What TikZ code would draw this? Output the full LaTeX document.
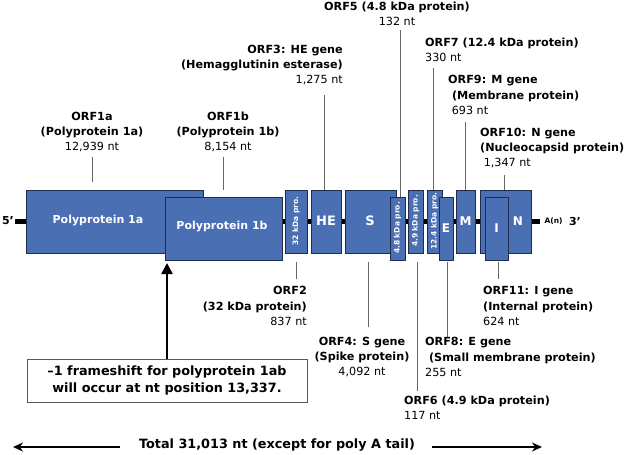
\documentclass[tikz,border=0pt]{standalone}
\usepackage{fontspec}
\setmainfont{DejaVu Sans}
\usetikzlibrary{arrows.meta}
\definecolor{gfill}{HTML}{4A6FB3}
\definecolor{gline}{HTML}{1E2C50}
\begin{document}
\begin{tikzpicture}[x=1pt,y=-1pt,
 blk/.style={draw=gline,fill=gfill,line width=0.8pt},
 btxt/.style={text=white,font=\bfseries\fontsize{11}{12}\selectfont},
 vtxt/.style={text=white,font=\bfseries\fontsize{7.5}{8}\selectfont,rotate=90},
 lab/.style={font=\fontsize{11.2}{15.3}\selectfont,align=center,inner sep=0pt},
 lead/.style={draw=gray!80!black,line width=0.8pt}]
\useasboundingbox (0,0) rectangle (625,455);
% backbone
\draw[line width=5pt] (15,221) coordinate(s5) -- (540,221) coordinate(e3);
\node[font=\bfseries\fontsize{11}{12}\selectfont] (p5) at (8,221) {5’};
\node[font=\bfseries\fontsize{7.5}{8}\selectfont,anchor=west] (An) at (541,221) {A(n)};
\node[font=\bfseries\fontsize{11}{12}\selectfont] (p3) at (575,221) {3’};
% blocks
\draw[blk] (26,190) rectangle (203,253); \node[btxt] (t1a) at (98,221) {Polyprotein 1a};
\draw[blk] (165,197) rectangle (282,260); \node[btxt] (t1b) at (222,227) {Polyprotein 1b};
\draw[blk] (285,190) rectangle (307,253); \node[vtxt] (t32) at (296,221) {32 kDa pro.};
\draw[blk] (311,190) rectangle (341,253); \node[btxt,font=\bfseries\fontsize{13}{14}\selectfont] (tHE) at (326,221) {HE};
\draw[blk] (345,190) rectangle (396,253); \node[btxt,font=\bfseries\fontsize{13}{14}\selectfont] (tS) at (370,221) {S};
\draw[blk] (390,197) rectangle (405,260); \node[vtxt] (t48) at (397.5,228) {4.8 kDa pro.};
\draw[blk] (408,190) rectangle (423,253); \node[vtxt] (t49) at (415.5,221) {4.9 kDa pro.};
\draw[blk] (427,190) rectangle (442,253); \node[vtxt] (t124) at (434.5,221) {12.4 kDa pro.};
\draw[blk] (439,197) rectangle (453,260); \node[btxt,font=\bfseries\fontsize{12}{13}\selectfont] (tE) at (446,228) {E};
\draw[blk] (456,190) rectangle (475,253); \node[btxt,font=\bfseries\fontsize{12}{13}\selectfont] (tM) at (465.5,221) {M};
\draw[blk] (480,190) rectangle (531,253); \node[btxt,font=\bfseries\fontsize{12}{13}\selectfont] (tN) at (518,221) {N};
\draw[blk] (485,197) rectangle (508,260); \node[btxt,font=\bfseries\fontsize{12}{13}\selectfont] (tI) at (496.5,228) {I};
% top labels
\node[lab] (o1a) at (92,132) {\textbf{ORF1a}\\\textbf{(Polyprotein 1a)}\\12,939 nt};
\node[lab] (o1b) at (228,132) {\textbf{ORF1b}\\\textbf{(Polyprotein 1b)}\\8,154 nt};
\node[lab,align=right,anchor=east] (o3) at (343,65) {\textbf{ORF3: HE gene}\\\textbf{(Hemagglutinin esterase)}\\1,275 nt};
\node[lab] (o5) at (397,14) {\textbf{ORF5 (4.8 kDa protein)}\\132 nt};
\node[lab,align=left,anchor=west] (o7) at (425,50) {\textbf{ORF7 (12.4 kDa protein)}\\330 nt};
\node[lab,align=left,anchor=west] (o9) at (448,95) {\textbf{ORF9: M gene}\\\textbf{\ (Membrane protein)}\\\ 693 nt};
\node[lab,align=left,anchor=west] (o10) at (480,148) {\textbf{ORF10: N gene}\\\textbf{(Nucleocapsid protein)}\\\ 1,347 nt};
\draw[lead] (92,157) -- (92,182);
\draw[lead] (223,157) -- (223,190);
\draw[lead] (324,95) -- (324,190);
\draw[lead] (400,30) -- (400,197);
\draw[lead] (433,68) -- (433,190);
\draw[lead] (465,122) -- (465,190);
\draw[lead] (504,175) -- (504,190);
% bottom labels
\node[lab,align=right,anchor=east] (o2) at (307,306) {\textbf{ORF2}\\\textbf{(32 kDa protein)}\\837 nt};
\node[lab] (o4) at (362,357) {\textbf{ORF4: S gene}\\\textbf{(Spike protein)}\\4,092 nt};
\node[lab,align=left,anchor=west] (o6) at (404,408) {\textbf{ORF6 (4.9 kDa protein)}\\117 nt};
\node[lab,align=left,anchor=west] (o8) at (425,357) {\textbf{ORF8: E gene}\\\textbf{\ (Small membrane protein)}\\255 nt};
\node[lab,align=left,anchor=west] (o11) at (483,306) {\textbf{ORF11: I gene}\\\textbf{(Internal protein)}\\624 nt};
\draw[lead] (296,262) -- (296,279);
\draw[lead] (368,262) -- (368,327);
\draw[lead] (417,262) -- (417,391);
\draw[lead] (447,262) -- (447,337);
\draw[lead] (498,262) -- (498,279);
% frameshift box
\node[draw=gray!70!black,line width=0.8pt,minimum width=280pt,minimum height=43pt,align=center,
 font=\bfseries\fontsize{12.8}{17}\selectfont,inner sep=0pt] (fs) at (167,380.5)
 {–1 frameshift for polyprotein 1ab\\will occur at nt position 13,337.};
\coordinate (fstip) at (167,263);
\draw[line width=2.5pt,-{Triangle[length=11pt,width=11pt]}] (fs.north) -- (fstip);
% total
\node[font=\bfseries\fontsize{12.8}{14}\selectfont] (tot) at (277,445) {Total 31,013 nt (except for poly A tail)};
\coordinate (la) at (13,447); \coordinate (ra) at (542,447);
\draw[line width=1.5pt,-{Stealth[length=10pt,width=9pt]}] (120,447) -- (la);
\draw[line width=1.5pt,-{Stealth[length=10pt,width=9pt]}] (432,447) -- (ra);
\end{tikzpicture}
\end{document}
